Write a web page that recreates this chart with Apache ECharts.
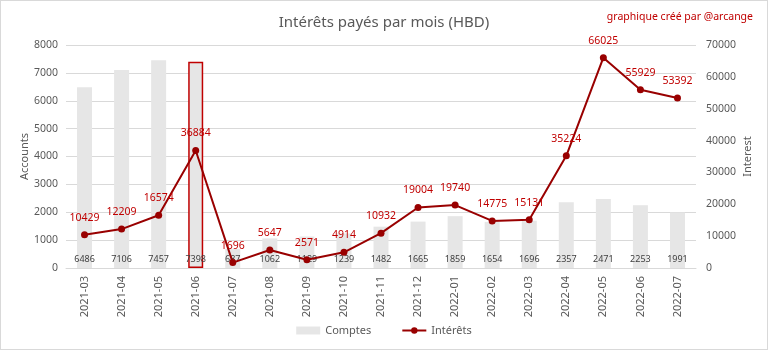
<!DOCTYPE html>
<html>
<head>
<meta charset="utf-8">
<script src="https://cdn.jsdelivr.net/npm/echarts@6/dist/echarts.min.js"></script>
<style>
  html, body { margin: 0; padding: 0; background: #fff; }
  #chart { width: 768px; height: 350px; box-sizing: border-box; border: 1px solid #d9d9d9; }
</style>
</head>
<body>
<div id="chart"></div>
<script>
// months
const months = ['2021-03', '2021-04', '2021-05', '2021-06', '2021-07', '2021-08', '2021-09', '2021-10', '2021-11',
  '2021-12', '2022-01', '2022-02', '2022-03', '2022-04', '2022-05', '2022-06', '2022-07']
// comptes (bars, left axis)
const comptes = [6486, 7106, 7457, 7398, 687, 1062, 1129, 1239, 1482, 1665, 1859, 1654, 1696, 2357, 2471, 2253, 1991]
// interets (line, right axis)
const interets = [10429, 12209, 16574, 36884, 1696, 5647, 2571, 4914, 10932, 19004, 19740, 14775, 15131, 35224, 66025, 55929, 53392]
// index of the highlighted bar
const selectedIndex = 3

const font = 'Noto Sans'
const grey = '#595959'
const red = '#c00000'

let chart = echarts.init(document.getElementById('chart'))

let barData = comptes.map((v, i) => {
  if (i === selectedIndex) {
    return { value: v, itemStyle: { borderColor: red, borderWidth: 1.5 } }
  }
  return v
})

// no thousands separator, like the original
const plain = v => String(v)

chart.setOption({
  animation: false,
  textStyle: { fontFamily: font },
  title: [
    {
      text: 'Intérêts payés par mois (HBD)',
      left: 'center',
      top: 9,
      textStyle: { fontSize: 15, fontWeight: 'normal', color: grey, fontFamily: font }
    },
    {
      text: 'graphique créé par @arcange',
      right: 9,
      top: 6,
      textStyle: { fontSize: 10.5, fontWeight: 'normal', color: red, fontFamily: font }
    }
  ],
  legend: {
    bottom: 8,
    left: 'center',
    itemGap: 30,
    itemWidth: 24,
    itemHeight: 8,
    textStyle: { fontSize: 11, color: grey },
    data: [
      { name: 'Comptes', icon: 'rect' },
      { name: 'Intérêts' }
    ]
  },
  grid: { left: 65, right: 71, top: 44, bottom: 81 },
  xAxis: {
    type: 'category',
    data: months,
    axisTick: { show: false },
    axisLine: { lineStyle: { color: '#d9d9d9' } },
    axisLabel: { rotate: 90, fontSize: 11, color: grey, margin: 8 }
  },
  yAxis: [
    {
      type: 'value',
      min: 0,
      max: 8000,
      interval: 1000,
      name: 'Accounts',
      nameLocation: 'middle',
      nameGap: 36,
      nameMoveOverlap: false,
      nameTextStyle: { fontSize: 11, color: grey },
      axisLabel: { fontSize: 10.5, color: grey, formatter: plain },
      splitLine: { lineStyle: { color: '#d9d9d9' } }
    },
    {
      type: 'value',
      min: 0,
      max: 70000,
      interval: 10000,
      name: 'Interest',
      nameLocation: 'middle',
      nameGap: 46,
      nameMoveOverlap: false,
      nameTextStyle: { fontSize: 11, color: grey },
      axisLabel: { fontSize: 10.5, color: grey, margin: 10, formatter: plain },
      splitLine: { show: false }
    }
  ],
  series: [
    {
      name: 'Comptes',
      type: 'bar',
      data: barData,
      barWidth: 15,
      itemStyle: { color: '#e6e6e6' },
      label: {
        show: true,
        position: 'insideBottom',
        distance: 4,
        fontSize: 9,
        color: '#404040'
      }
    },
    {
      name: 'Intérêts',
      type: 'line',
      yAxisIndex: 1,
      data: interets,
      symbol: 'circle',
      symbolSize: 7,
      lineStyle: { color: '#990000', width: 2 },
      itemStyle: { color: '#990000' },
      label: {
        show: true,
        position: 'top',
        distance: 8,
        fontSize: 10.5,
        color: red
      },
      z: 5
    }
  ]
})
</script>
</body>
</html>
